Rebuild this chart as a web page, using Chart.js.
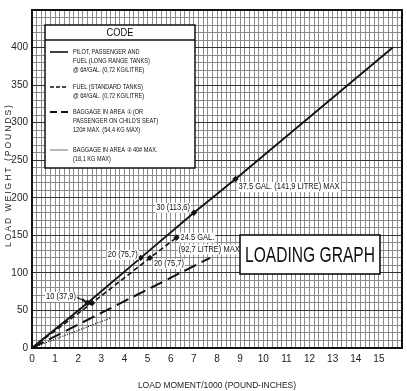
<!DOCTYPE html>
<html>
<head>
<meta charset="utf-8">
<script src="https://cdn.jsdelivr.net/npm/chart.js@4.4.1/dist/chart.umd.min.js"></script>
<style>
  html, body { margin: 0; padding: 0; background: #fff; }
  #wrap { width: 407px; height: 391px; position: relative; }
</style>
</head>
<body>
<div id="wrap"><canvas id="loadChart"></canvas></div>
<script>
// values (x = load moment/1000 lb-in, y = load weight lb)
const pilotMoment = [0, 2.4, 4.7, 7.0, 8.8, 15.6];
const pilotWeight = [0, 60, 120, 180, 225, 400];
const fuelStdMoment = [0, 2.6, 5.1, 6.25];
const fuelStdWeight = [0, 60, 120, 147];
const bag1Moment = [0, 7.7];
const bag1Weight = [0, 120];
const bag2Moment = [0, 3.4];
const bag2Weight = [0, 40];

const xTickLabels = [0, 1, 2, 3, 4, 5, 6, 7, 8, 9, 10, 11, 12, 13, 14, 15];
const yTickLabels = [0, 50, 100, 150, 200, 250, 300, 350, 400];

const NARROW = "'Liberation Sans Narrow', 'Liberation Sans', Arial, sans-serif";

function pts(xs, ys) {
    return xs.map((x, i) => ({ x: x, y: ys[i] }));
}

// marker only on the labelled points, not at the origin / line end
function markers(xs, keep) {
    return xs.map((x, i) => keep.includes(i) ? 3.2 : 0);
}

// labels next to points on the lines
const pointNotes = [
    { lines: ['37.5 GAL. (141,9 LITRE) MAX'], x: 8.8, y: 225, dx: 3, dy: 8, align: 'left' },
    { lines: ['30 (113,6)'], x: 7.0, y: 180, dx: -4, dy: -5, align: 'right' },
    { lines: ['20 (75,7)'], x: 4.7, y: 120, dx: -3, dy: -3, align: 'right' },
    { lines: ['24.5 GAL.', '(92,7 LITRE) MAX'], x: 6.25, y: 147, dx: 4, dy: 0, align: 'left' },
    { lines: ['20 (75,7)'], x: 5.1, y: 120, dx: 4, dy: 6, align: 'left' }
];

const legendItems = [
    { dash: [], width: 1.6, lines: ['PILOT, PASSENGER AND', 'FUEL (LONG RANGE TANKS)', '@ 6#/GAL. (0,72 KG/LITRE)'] },
    { dash: [4, 2], width: 1.6, lines: ['FUEL (STANDARD TANKS)', '@ 6#/GAL. (0,72 KG/LITRE)'] },
    { dash: [7, 4], width: 1.8, lines: ['BAGGAGE IN AREA \u2460 (OR', 'PASSENGER ON CHILD\'S SEAT)', '120# MAX. (54,4 KG MAX)'] },
    { dash: [], width: 0.6, lines: ['BAGGAGE IN AREA \u2461 40# MAX.', '(18,1 KG MAX)'] }
];

// text squeezed horizontally, like the condensed type of the original
function narrowText(ctx, text, x, y, align, sx) {
    ctx.save();
    ctx.translate(x, y);
    ctx.scale(sx, 1);
    ctx.textAlign = align;
    ctx.fillText(text, 0, 0);
    ctx.restore();
}

function whiteLabel(ctx, text, x, y, align) {
    const sx = 0.88;
    const w = ctx.measureText(text).width * sx;
    const left = align === 'right' ? x - w : x;
    ctx.fillStyle = '#fff';
    ctx.fillRect(left - 1, y - 5, w + 2, 10);
    ctx.fillStyle = '#111';
    narrowText(ctx, text, x, y, align, sx);
}

function arrow(ctx, x1, y1, x2, y2) {
    ctx.beginPath();
    ctx.moveTo(x1, y1);
    ctx.lineTo(x2, y2);
    ctx.stroke();
    const a = Math.atan2(y2 - y1, x2 - x1);
    ctx.beginPath();
    ctx.moveTo(x2, y2);
    ctx.lineTo(x2 - 5 * Math.cos(a - 0.35), y2 - 5 * Math.sin(a - 0.35));
    ctx.lineTo(x2 - 5 * Math.cos(a + 0.35), y2 - 5 * Math.sin(a + 0.35));
    ctx.closePath();
    ctx.fill();
}

const decorations = {
    id: 'decorations',
    afterDraw(chart) {
        const ctx = chart.ctx;
        const xs = chart.scales.x, ys = chart.scales.y;
        const area = chart.chartArea;
        ctx.save();

        // heavy frame
        ctx.strokeStyle = '#111';
        ctx.lineWidth = 2;
        ctx.strokeRect(area.left, area.top, area.right - area.left, area.bottom - area.top);

        // y axis title, spaced letters
        ctx.save();
        ctx.translate(9, (area.top + area.bottom) / 2 - 4);
        ctx.rotate(-Math.PI / 2);
        ctx.letterSpacing = '2px';
        ctx.font = "8.5px 'Liberation Sans', Arial, sans-serif";
        ctx.fillStyle = '#222';
        ctx.textAlign = 'center';
        ctx.textBaseline = 'middle';
        ctx.fillText('LOAD WEIGHT (POUNDS)', 0, 0);
        ctx.restore();

        // point labels
        ctx.font = '8.5px ' + NARROW;
        ctx.textBaseline = 'middle';
        pointNotes.forEach(n => {
            const px = xs.getPixelForValue(n.x) + n.dx;
            const py = ys.getPixelForValue(n.y) + n.dy;
            n.lines.forEach((t, i) => {
                const lx = (i > 0 && n.align === 'left') ? px - 2 : px;
                whiteLabel(ctx, t, lx, py + i * 12, n.align);
            });
        });

        // "10 (37,9)" with arrows to both 10 gal. points
        const p1x = xs.getPixelForValue(pilotMoment[1]), p1y = ys.getPixelForValue(pilotWeight[1]);
        const p2x = xs.getPixelForValue(fuelStdMoment[1]), p2y = ys.getPixelForValue(fuelStdWeight[1]);
        const lx = xs.getPixelForValue(1.9), ly = ys.getPixelForValue(68);
        whiteLabel(ctx, '10 (37,9)', lx, ly, 'right');
        ctx.strokeStyle = '#111';
        ctx.fillStyle = '#111';
        ctx.lineWidth = 0.8;
        arrow(ctx, lx + 1, ly, p1x - 1, p1y - 1);
        arrow(ctx, lx + 1, ly + 1, p2x - 1, p2y);

        // CODE legend box
        const bx = 45, by = 25, bw = 150, bh = 143;
        ctx.fillStyle = '#fff';
        ctx.fillRect(bx, by, bw, bh);
        ctx.strokeStyle = '#111';
        ctx.lineWidth = 1.5;
        ctx.strokeRect(bx, by, bw, bh);
        ctx.beginPath();
        ctx.moveTo(bx, by + 15);
        ctx.lineTo(bx + bw, by + 15);
        ctx.stroke();
        ctx.fillStyle = '#111';
        ctx.font = "11px " + NARROW;
        ctx.textBaseline = 'middle';
        narrowText(ctx, 'CODE', bx + bw / 2, by + 8, 'center', 0.85);

        ctx.font = '7px ' + NARROW;
        const rowTops = [52, 87, 112, 150];
        legendItems.forEach((it, k) => {
            const y0 = rowTops[k];
            ctx.setLineDash(it.dash);
            ctx.lineWidth = it.width;
            ctx.beginPath();
            ctx.moveTo(bx + 5, y0);
            ctx.lineTo(bx + 23, y0);
            ctx.stroke();
            ctx.setLineDash([]);
            it.lines.forEach((t, i) => {
                narrowText(ctx, t, bx + 28, y0 + i * 9, 'left', 0.8);
            });
        });

        // LOADING GRAPH box
        ctx.fillStyle = '#fff';
        ctx.fillRect(240, 235, 140, 39);
        ctx.lineWidth = 1.6;
        ctx.strokeRect(240, 235, 140, 39);
        ctx.fillStyle = '#111';
        ctx.font = '22px ' + NARROW;
        const tw = ctx.measureText('LOADING GRAPH').width;
        narrowText(ctx, 'LOADING GRAPH', 310, 256, 'center', Math.min(1, 130 / tw));

        ctx.restore();
    }
};

const ctx = document.getElementById('loadChart').getContext('2d');

new Chart(ctx, {
    type: 'scatter',
    data: {
        datasets: [
            {
                label: 'Pilot, passenger and fuel (long range tanks)',
                data: pts(pilotMoment, pilotWeight),
                showLine: true,
                borderColor: '#111',
                borderWidth: 1.8,
                pointRadius: markers(pilotMoment, [1, 2, 3, 4]),
                pointBackgroundColor: '#111',
                pointBorderWidth: 0,
                pointStyle: 'rectRot'
            },
            {
                label: 'Fuel (standard tanks)',
                data: pts(fuelStdMoment, fuelStdWeight),
                showLine: true,
                borderColor: '#111',
                borderWidth: 1.6,
                borderDash: [5, 3],
                pointRadius: markers(fuelStdMoment, [1, 2, 3]),
                pointBackgroundColor: '#111',
                pointBorderWidth: 0,
                pointStyle: 'rectRot'
            },
            {
                label: 'Baggage in area 1',
                data: pts(bag1Moment, bag1Weight),
                showLine: true,
                borderColor: '#111',
                borderWidth: 2,
                borderDash: [13, 6],
                pointRadius: 0
            },
            {
                label: 'Baggage in area 2',
                data: pts(bag2Moment, bag2Weight),
                showLine: true,
                borderColor: '#111',
                borderWidth: 1.2,
                borderDash: [1, 1.5],
                pointRadius: 0
            }
        ]
    },
    options: {
        responsive: true,
        maintainAspectRatio: false,
        animation: false,
        layout: {
            padding: { top: 10, right: 3, left: 0, bottom: 0 }
        },
        plugins: {
            legend: { display: false },
            tooltip: { enabled: false }
        },
        scales: {
            x: {
                type: 'linear',
                min: 0,
                max: 16,
                afterFit: function(scale) { scale.height = 43; },
                grid: {
                    drawTicks: false,
                    lineWidth: 1,
                    color: '#8a8a8a'
                },
                border: { display: false },
                ticks: {
                    stepSize: 0.2,
                    autoSkip: false,
                    maxRotation: 0,
                    padding: 5,
                    color: '#222',
                    font: { family: NARROW, size: 10 },
                    callback: function(value) {
                        const r = Math.round(value);
                        return (Math.abs(value - r) < 1e-6 && xTickLabels.includes(r)) ? String(r) : '';
                    }
                },
                title: {
                    display: true,
                    text: 'LOAD MOMENT/1000 (POUND-INCHES)',
                    color: '#222',
                    font: { family: NARROW, size: 8.5 },
                    padding: { top: 10, bottom: 0 }
                }
            },
            y: {
                type: 'linear',
                min: 0,
                max: 450,
                afterFit: function(scale) { scale.width = 32; },
                grid: {
                    drawTicks: false,
                    lineWidth: 1,
                    color: function(c) {
                        return (c.tick && c.tick.value % 50 === 0) ? '#333' : '#8a8a8a';
                    }
                },
                border: { display: false },
                ticks: {
                    stepSize: 10,
                    autoSkip: false,
                    padding: 4,
                    color: '#222',
                    font: { family: NARROW, size: 10 },
                    callback: function(value) {
                        return yTickLabels.includes(value) ? String(value) : '';
                    }
                }
            }
        }
    },
    plugins: [decorations]
});
</script>
</body>
</html>
